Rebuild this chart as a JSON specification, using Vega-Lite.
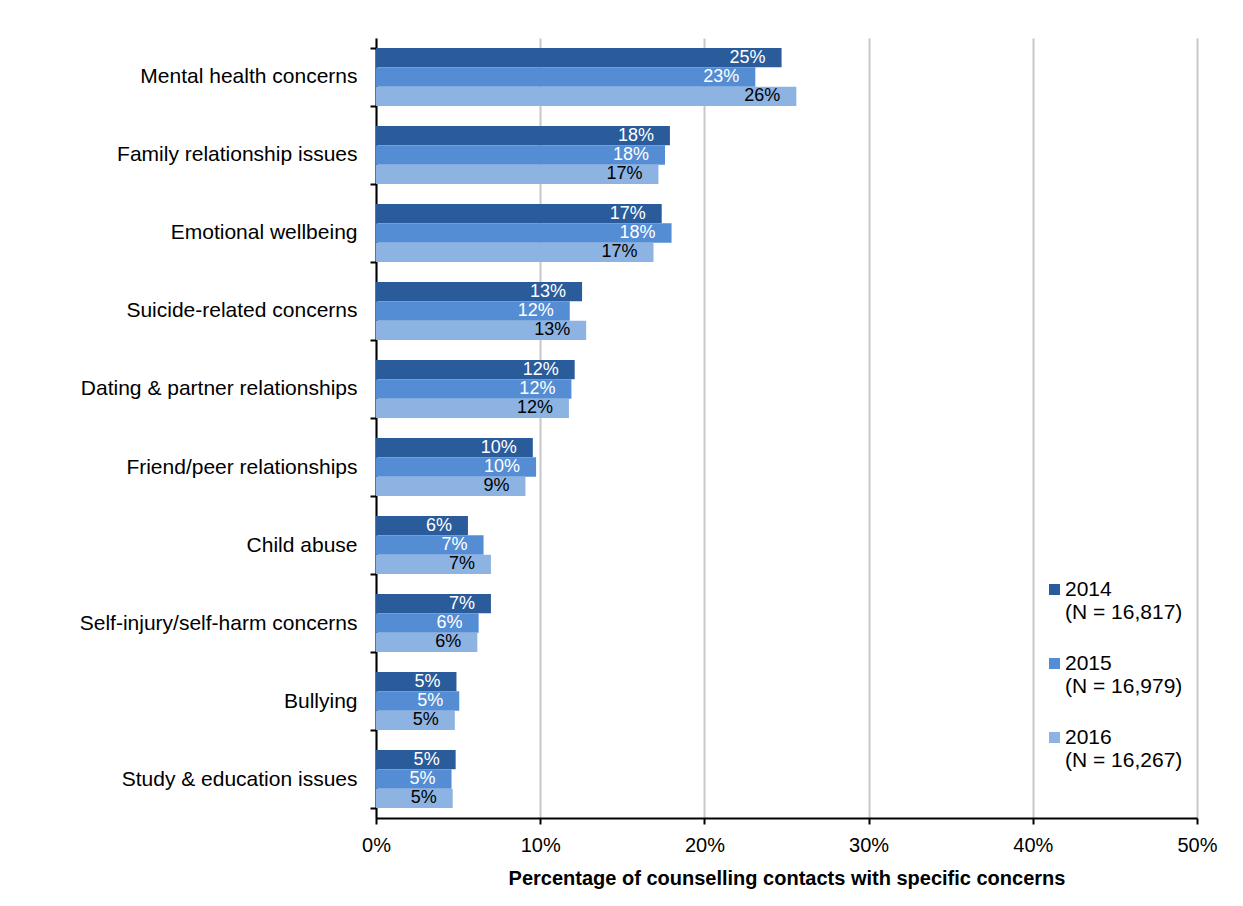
{
  "$schema": "https://vega.github.io/schema/vega-lite/v6.json",
  "width": 821,
  "height": 780,
  "autosize": {"type": "none"},
  "padding": {"left": 376, "top": 38, "right": 46, "bottom": 88},
  "background": "white",
  "config": {
    "view": {"stroke": null},
    "font": "Liberation Sans",
    "axis": {"labelFont": "Liberation Sans", "titleFont": "Liberation Sans", "labelColor": "black", "titleColor": "black"}
  },
  "data": {
    "values": [
      {"concern": "Mental health concerns", "year": "2014", "value": 0.247},
      {"concern": "Mental health concerns", "year": "2015", "value": 0.231},
      {"concern": "Mental health concerns", "year": "2016", "value": 0.256},
      {"concern": "Family relationship issues", "year": "2014", "value": 0.179},
      {"concern": "Family relationship issues", "year": "2015", "value": 0.176},
      {"concern": "Family relationship issues", "year": "2016", "value": 0.172},
      {"concern": "Emotional wellbeing", "year": "2014", "value": 0.174},
      {"concern": "Emotional wellbeing", "year": "2015", "value": 0.180},
      {"concern": "Emotional wellbeing", "year": "2016", "value": 0.169},
      {"concern": "Suicide-related concerns", "year": "2014", "value": 0.1255},
      {"concern": "Suicide-related concerns", "year": "2015", "value": 0.118},
      {"concern": "Suicide-related concerns", "year": "2016", "value": 0.128},
      {"concern": "Dating & partner relationships", "year": "2014", "value": 0.121},
      {"concern": "Dating & partner relationships", "year": "2015", "value": 0.119},
      {"concern": "Dating & partner relationships", "year": "2016", "value": 0.1175},
      {"concern": "Friend/peer relationships", "year": "2014", "value": 0.0955},
      {"concern": "Friend/peer relationships", "year": "2015", "value": 0.0975},
      {"concern": "Friend/peer relationships", "year": "2016", "value": 0.091},
      {"concern": "Child abuse", "year": "2014", "value": 0.056},
      {"concern": "Child abuse", "year": "2015", "value": 0.0655},
      {"concern": "Child abuse", "year": "2016", "value": 0.070},
      {"concern": "Self-injury/self-harm concerns", "year": "2014", "value": 0.070},
      {"concern": "Self-injury/self-harm concerns", "year": "2015", "value": 0.0625},
      {"concern": "Self-injury/self-harm concerns", "year": "2016", "value": 0.0617},
      {"concern": "Bullying", "year": "2014", "value": 0.049},
      {"concern": "Bullying", "year": "2015", "value": 0.0507},
      {"concern": "Bullying", "year": "2016", "value": 0.048},
      {"concern": "Study & education issues", "year": "2014", "value": 0.0485},
      {"concern": "Study & education issues", "year": "2015", "value": 0.046},
      {"concern": "Study & education issues", "year": "2016", "value": 0.0467}
    ]
  },
  "encoding": {
    "y": {
      "field": "concern",
      "type": "nominal",
      "sort": null,
      "scale": {"paddingInner": 0.2564, "paddingOuter": 0.128},
      "axis": {
        "title": null,
        "domainColor": "black",
        "domainWidth": 2,
        "tickColor": "black",
        "tickWidth": 2,
        "tickSize": 6,
        "tickBand": "extent",
        "labelFontSize": 21,
        "labelPadding": 13,
        "labelLimit": 0
      }
    },
    "yOffset": {"field": "year", "type": "nominal", "scale": {"paddingInner": 0, "paddingOuter": 0}},
    "x": {
      "field": "value",
      "type": "quantitative",
      "scale": {"domain": [0, 0.5], "nice": false},
      "axis": {
        "title": "Percentage of counselling contacts with specific concerns",
        "titleFontSize": 20,
        "titleFontWeight": "bold",
        "titlePadding": 13,
        "format": ".0%",
        "values": [0, 0.1, 0.2, 0.3, 0.4, 0.5],
        "labelFlush": false,
        "domainColor": "black",
        "domainWidth": 2,
        "tickColor": "black",
        "tickWidth": 2,
        "tickSize": 6,
        "labelFontSize": 20,
        "labelPadding": 11,
        "grid": true,
        "gridColor": "#c8c8c8",
        "gridWidth": 2
      }
    }
  },
  "layer": [
    {
      "mark": {"type": "bar"},
      "encoding": {
        "color": {
          "field": "year",
          "type": "nominal",
          "scale": {"domain": ["2014", "2015", "2016"], "range": ["#2a5b9b", "#548dd4", "#8db3e2"]},
          "legend": {
            "title": null,
            "orient": "none",
            "legendX": 668,
            "legendY": 541,
            "symbolType": "square",
            "symbolSize": 121,
            "symbolStrokeWidth": 0,
            "labelFont": "Liberation Sans",
            "labelFontSize": 21,
            "labelColor": "black",
            "labelLimit": 0,
            "labelOffset": 0,
            "labelLineHeight": 25,
            "rowPadding": 29,
            "labelExpr": "datum.label == '2014' ? ['2014', '(N = 16,817)'] : datum.label == '2015' ? ['2015', '(N = 16,979)'] : ['2016', '(N = 16,267)']"
          }
        }
      }
    },
    {
      "mark": {"type": "text", "align": "right", "baseline": "middle", "dx": -16, "fontSize": 18, "font": "Liberation Sans"},
      "encoding": {
        "text": {"field": "value", "type": "quantitative", "format": ".0%"},
        "color": {"condition": {"test": "datum.year == '2016'", "value": "black"}, "value": "white"}
      }
    }
  ]
}
